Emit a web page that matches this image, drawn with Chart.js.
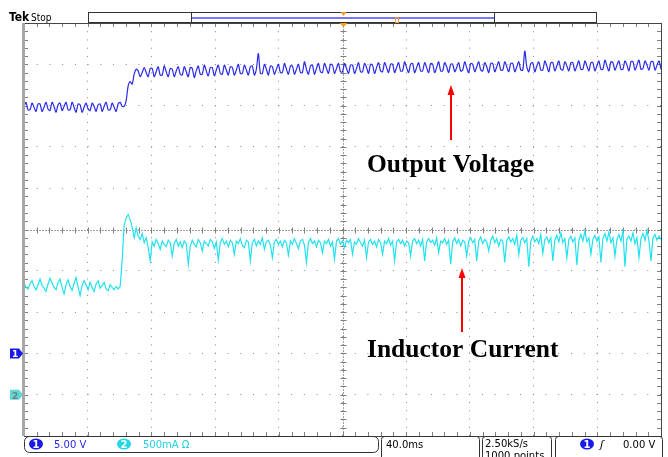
<!DOCTYPE html>
<html>
<head>
<meta charset="utf-8">
<script src="https://cdn.jsdelivr.net/npm/chart.js@4"></script>
<style>
  html, body { margin: 0; padding: 0; background: #ffffff; }
  #wrap { position: relative; width: 668px; height: 457px; overflow: hidden; }
</style>
</head>
<body>
<div id="wrap"><canvas id="scopeChart"></canvas></div>
<script>
// CH1 output voltage (V), 319 samples across the screen
const outputVoltage = [
    29.9, 30.4, 29.5, 29.5, 30.3, 29.8, 29.3, 30.2, 30.2, 29.3,
    29.8, 30.4, 29.6, 29.4, 30.4, 29.9, 29.2, 30.1, 30.3, 29.4,
    29.9, 30.4, 29.5, 29.5, 30.4, 29.8, 29.2, 30.2, 30.1, 29.2,
    29.8, 30.3, 29.6, 29.4, 30.3, 29.9, 29.3, 30.1, 30.2, 29.3,
    29.9, 30.4, 29.5, 29.5, 30.3, 29.8, 29.3, 30.2, 30.4, 29.9,
    29.9, 30.6, 32.4, 32.9, 32.6, 33.8,
    34.4, 34.2, 33.5, 34.0, 34.6, 34.0, 33.5, 34.5, 34.5, 33.5,
    34.1, 34.7, 33.7, 33.7, 34.8, 34.1, 33.5, 34.5, 34.4, 33.5,
    34.2, 34.7, 33.8, 33.7, 34.7, 34.1, 33.5, 34.6, 34.5, 33.4,
    34.2, 34.8, 33.8, 33.8, 34.9, 34.2, 33.6, 34.6, 34.6, 33.6,
    34.3, 34.9, 33.9, 33.8, 34.9, 34.3, 33.7, 34.7, 34.6, 33.7,
    34.3, 35.0, 33.9, 33.9, 34.9, 34.3, 33.7, 34.7, 34.8, 33.7,
    34.4, 36.3, 33.9, 33.9, 35.0, 34.4, 33.7, 34.8, 34.7, 33.8,
    34.4, 35.0, 34.0, 34.0, 35.1, 34.4, 33.8, 34.8, 34.8, 33.8,
    34.4, 35.0, 34.0, 34.0, 35.3, 34.4, 33.8, 34.8, 34.9, 33.8,
    34.5, 35.1, 34.1, 34.0, 35.1, 34.5, 33.9, 35.0, 34.9, 33.9,
    34.5, 35.1, 34.1, 34.1, 35.1, 34.5, 33.9, 34.9, 34.9, 33.9,
    34.5, 35.2, 34.1, 34.1, 35.1, 34.6, 33.9, 35.0, 34.9, 33.9,
    34.6, 35.2, 34.2, 34.1, 35.2, 34.6, 34.0, 35.0, 35.0, 34.0,
    34.6, 35.2, 34.2, 34.2, 35.3, 34.6, 34.0, 35.0, 35.1, 34.0,
    34.6, 35.2, 34.2, 34.2, 35.2, 34.6, 34.0, 35.1, 35.0, 34.0,
    34.6, 35.3, 34.2, 34.2, 35.2, 34.7, 34.0, 35.0, 35.0, 34.1,
    34.6, 35.2, 34.2, 34.3, 35.3, 34.6, 34.0, 35.1, 35.0, 34.1,
    34.7, 35.3, 34.3, 34.2, 35.2, 34.7, 34.0, 35.1, 35.1, 34.1,
    34.7, 35.3, 34.3, 34.3, 35.3, 34.7, 34.1, 35.1, 35.1, 34.1,
    34.7, 35.3, 34.3, 34.3, 36.6, 34.7, 34.1, 35.1, 35.2, 34.1,
    34.8, 35.3, 34.3, 34.3, 35.4, 34.8, 34.1, 35.2, 35.2, 34.2,
    34.8, 35.4, 34.4, 34.3, 35.3, 34.8, 34.2, 35.2, 35.2, 34.2,
    34.8, 35.4, 34.4, 34.4, 35.4, 34.8, 34.2, 35.2, 35.2, 34.2,
    34.8, 35.4, 34.4, 34.4, 35.5, 34.8, 34.2, 35.3, 35.2, 34.3,
    34.9, 35.4, 34.4, 34.4, 35.4, 34.9, 34.2, 35.3, 35.3, 34.3,
    34.9, 35.5, 34.4, 34.5, 35.4, 34.9, 34.3, 35.3, 35.3, 34.3,
    34.9, 35.4, 34.4
];

// CH2 inductor current (A), same samples
const inductorCurrent = [
    1.36, 1.30, 1.28, 1.34, 1.38, 1.31, 1.27, 1.33, 1.40, 1.32,
    1.29, 1.25, 1.34, 1.41, 1.35, 1.30, 1.27, 1.36, 1.40, 1.30,
    1.22, 1.33, 1.39, 1.31, 1.26, 1.35, 1.42, 1.30, 1.20, 1.32,
    1.38, 1.33, 1.27, 1.36, 1.30, 1.25, 1.34, 1.38, 1.29, 1.32,
    1.36, 1.28, 1.26, 1.33, 1.30, 1.27, 1.31, 1.28, 1.31,
    1.62, 2.05, 2.14, 2.18, 2.12, 2.03, 1.90, 2.02, 1.92, 1.88, 1.95, 1.84, 1.90,
    1.78, 1.62, 1.85, 1.80, 1.88, 1.83, 1.76, 1.86, 1.82, 1.79,
    1.87, 1.84, 1.68, 1.83, 1.88, 1.80, 1.85, 1.78, 1.86, 1.83,
    1.58, 1.80, 1.87, 1.82, 1.79, 1.88, 1.84, 1.74, 1.86, 1.83,
    1.80, 1.88, 1.85, 1.77, 1.85, 1.63, 1.84, 1.89, 1.82, 1.86,
    1.79, 1.87, 1.84, 1.70, 1.86, 1.83, 1.89, 1.81, 1.78, 1.87,
    1.85, 1.62, 1.84, 1.88, 1.80, 1.86, 1.82, 1.90, 1.76, 1.85,
    1.87, 1.81, 1.66, 1.85, 1.88, 1.82, 1.86, 1.79, 1.87, 1.84,
    1.69, 1.86, 1.82, 1.89, 1.83, 1.77, 1.86, 1.88, 1.81, 1.60,
    1.84, 1.89, 1.83, 1.86, 1.79, 1.87, 1.84, 1.72, 1.86, 1.83,
    1.88, 1.80, 1.85, 1.64, 1.86, 1.89, 1.82, 1.86, 1.78, 1.87,
    1.84, 1.88, 1.70, 1.85, 1.82, 1.89, 1.84, 1.80, 1.87, 1.66,
    1.85, 1.88, 1.82, 1.86, 1.79, 1.88, 1.84, 1.70, 1.86, 1.83,
    1.89, 1.81, 1.86, 1.62, 1.85, 1.88, 1.83, 1.87, 1.80, 1.86,
    1.84, 1.68, 1.86, 1.89, 1.83, 1.87, 1.80, 1.88, 1.62, 1.85,
    1.89, 1.84, 1.87, 1.81, 1.90, 1.72, 1.86, 1.84, 1.89, 1.82,
    1.87, 1.58, 1.85, 1.90, 1.83, 1.88, 1.80, 1.87, 1.85, 1.68,
    1.86, 1.90, 1.84, 1.88, 1.62, 1.86, 1.91, 1.83, 1.88, 1.85,
    1.74, 1.87, 1.92, 1.84, 1.89, 1.80, 1.88, 1.86, 1.60, 1.87,
    1.91, 1.85, 1.89, 1.82, 1.93, 1.70, 1.87, 1.90, 1.84, 1.89,
    1.55, 1.86, 1.92, 1.85, 1.89, 1.83, 1.94, 1.71, 1.88, 1.91,
    1.84, 1.90, 1.62, 1.87, 1.93, 1.85, 1.96, 1.84, 1.89, 1.66,
    1.88, 1.92, 1.85, 1.90, 1.57, 1.87, 1.94, 1.86, 1.98, 1.85,
    1.90, 1.70, 1.88, 1.93, 1.86, 1.91, 1.60, 1.89, 1.95, 1.86,
    1.97, 1.84, 1.90, 1.68, 1.88, 1.94, 1.86, 1.98, 1.55, 1.89,
    1.92, 1.86, 1.96, 1.83, 1.90, 1.66, 1.89, 1.95, 1.87, 1.99,
    1.86, 1.62, 1.90, 1.94, 1.87, 1.92, 1.88
];

// screen settings: 40 ms/div, 10 divisions, trigger in the middle
const timeRangeMs = [-200, 200];
const msPerDiv = 40;
const ch1Range = [-10, 40];    // 5.00 V/div, ground 2 div above bottom
const ch1PerDiv = 5;
const ch2Range = [-0.5, 4.5];  // 500 mA/div, ground 1 div above bottom

// sample times of the record
const sampleTimes = outputVoltage.map((_, i) =>
    timeRangeMs[0] + i * (timeRangeMs[1] - timeRangeMs[0]) / (outputVoltage.length - 1));

const CH1 = '#2a2aea';
const CH2 = '#22e2f0';

function seg(ctx, x1, y1, x2, y2) {
    ctx.beginPath();
    ctx.moveTo(x1, y1);
    ctx.lineTo(x2, y2);
    ctx.stroke();
}

function badge(ctx, cx, cy, txt, fill) {
    ctx.fillStyle = fill;
    ctx.beginPath();
    ctx.ellipse(cx, cy, 7, 5.5, 0, 0, Math.PI * 2);
    ctx.fill();
    ctx.fillStyle = '#ffffff';
    ctx.font = 'bold 10px "DejaVu Sans"';
    ctx.textAlign = 'center';
    ctx.fillText(txt, cx, cy + 4);
    ctx.textAlign = 'left';
}

function arrowUp(ctx, x, tipY, tailY) {
    ctx.strokeStyle = '#ff0000';
    ctx.fillStyle = '#ff0000';
    ctx.lineWidth = 2;
    seg(ctx, x, tailY, x, tipY + 8);
    ctx.beginPath();
    ctx.moveTo(x, tipY);
    ctx.lineTo(x - 3.5, tipY + 10);
    ctx.lineTo(x + 3.5, tipY + 10);
    ctx.closePath();
    ctx.fill();
}

const scopeDecor = {
    id: 'scopeDecor',
    beforeDatasetsDraw(chart) {
        const {ctx, chartArea: a, scales} = chart;
        const x = scales.x, y = scales.y;
        const cx = Math.round(x.getPixelForValue(0)) + 0.5;
        const cy = Math.round(y.getPixelForValue(15)) + 0.5;
        ctx.save();
        ctx.lineWidth = 1;
        ctx.strokeStyle = '#a0a0a0';
        ctx.setLineDash([2, 1]);
        seg(ctx, cx, a.top, cx, a.bottom);
        seg(ctx, a.left, cy, a.right, cy);
        ctx.setLineDash([]);
        ctx.strokeStyle = '#808080';
        for (let t = timeRangeMs[0]; t <= timeRangeMs[1]; t += msPerDiv / 5) {
            const px = Math.round(x.getPixelForValue(t)) + 0.5;
            seg(ctx, px, a.top, px, a.top + 4);
            seg(ctx, px, a.bottom - 4, px, a.bottom);
            seg(ctx, px, cy - 3, px, cy + 3);
        }
        for (let v = ch1Range[0]; v <= ch1Range[1]; v += ch1PerDiv / 5) {
            const py = Math.round(y.getPixelForValue(v)) + 0.5;
            seg(ctx, a.left, py, a.left + 4, py);
            seg(ctx, a.right - 4, py, a.right, py);
            seg(ctx, cx - 3, py, cx + 3, py);
        }
        ctx.restore();
    },
    afterDatasetsDraw(chart) {
        const {ctx, chartArea: a, scales} = chart;
        const x = scales.x, y = scales.y, y2 = scales.y2;
        ctx.save();

        // frame
        ctx.strokeStyle = '#444444';
        ctx.lineWidth = 1;
        ctx.strokeRect(a.left + 0.5, a.top + 0.5, a.right - a.left, a.bottom - a.top);
        ctx.fillStyle = '#a8a8a8';
        ctx.fillRect(a.left - 2, a.top, 3, a.bottom - a.top);

        // Tek Stop
        ctx.fillStyle = '#000000';
        ctx.font = 'bold 12px "DejaVu Sans Condensed", "DejaVu Sans"';
        ctx.fillText('Tek', 9, 21);
        ctx.font = '10px "DejaVu Sans Condensed", "DejaVu Sans"';
        ctx.fillText('Stop', 31, 21);

        // record view bar
        const tx = Math.round(x.getPixelForValue(0)) + 0.5;
        ctx.strokeStyle = '#333333';
        ctx.strokeRect(88.5, 12.5, 508, 10);
        seg(ctx, 191.5, 12, 191.5, 23);
        seg(ctx, 494.5, 12, 494.5, 23);
        ctx.strokeStyle = '#4a4aff';
        ctx.lineWidth = 1.5;
        seg(ctx, 192, 18, 494, 18);
        ctx.fillStyle = '#f29a1e';
        ctx.beginPath();
        ctx.moveTo(tx - 3, 12); ctx.lineTo(tx + 3, 12); ctx.lineTo(tx, 16); ctx.closePath(); ctx.fill();
        ctx.beginPath();
        ctx.moveTo(tx - 4, a.top); ctx.lineTo(tx + 4, a.top); ctx.lineTo(tx, a.top + 4); ctx.closePath(); ctx.fill();
        ctx.strokeStyle = '#f29a1e';
        ctx.lineWidth = 1;
        ctx.strokeRect(395.5, 17.5, 3, 5);

        // channel ground markers
        const g1 = y.getPixelForValue(0);
        const g2 = y2.getPixelForValue(0);
        [[g1, '1', '#1a1ae8', '#ffffff'], [g2, '2', '#5fd6d6', '#7a7a7a']].forEach(([gy, t, f, tc]) => {
            ctx.fillStyle = f;
            ctx.beginPath();
            ctx.moveTo(10, gy - 5); ctx.lineTo(19, gy - 5); ctx.lineTo(23, gy);
            ctx.lineTo(19, gy + 5); ctx.lineTo(10, gy + 5); ctx.closePath(); ctx.fill();
            ctx.fillStyle = tc;
            ctx.font = 'bold 9px "DejaVu Sans"';
            ctx.fillText(t, 12, gy + 4);
        });

        // annotations
        ctx.fillStyle = '#000000';
        ctx.font = 'bold 25.5px "Liberation Serif"';
        ctx.fillText('Output Voltage', 367, 172);
        ctx.fillText('Inductor Current', 367, 357);
        arrowUp(ctx, 451, 85, 140);
        arrowUp(ctx, 462, 268, 332);

        // status bar
        ctx.strokeStyle = '#333333';
        ctx.lineWidth = 1;
        ctx.beginPath();
        ctx.roundRect(24.5, 436.5, 354, 16, 5);
        ctx.stroke();
        ctx.beginPath();
        ctx.roundRect(381.5, 436.5, 98, 24, 3);
        ctx.stroke();
        ctx.beginPath();
        ctx.roundRect(482.5, 436.5, 69, 24, 3);
        ctx.stroke();
        ctx.beginPath();
        ctx.roundRect(555.5, 436.5, 107, 24, 3);
        ctx.stroke();

        badge(ctx, 36, 444, '1', '#1a1ae8');
        badge(ctx, 124, 444, '2', '#22d8e6');
        ctx.font = '10px "DejaVu Sans"';
        ctx.fillStyle = '#2a2ae6';
        ctx.fillText('5.00 V', 54, 448);
        ctx.fillStyle = '#1ed2e2';
        ctx.fillText('500mA \u03A9', 143, 448);
        ctx.fillStyle = '#000000';
        ctx.fillText('40.0ms', 386, 448);
        ctx.fillText('2.50kS/s', 485, 447);
        ctx.fillText('1000 points', 485, 459);
        badge(ctx, 587, 444, '1', '#1a1ae8');
        ctx.fillStyle = '#000000';
        ctx.font = 'italic 11px "DejaVu Sans"';
        ctx.fillText('\u0283', 600, 448);
        ctx.font = '10px "DejaVu Sans"';
        ctx.fillText('0.00 V', 623, 448);

        ctx.restore();
    }
};

new Chart(document.getElementById('scopeChart'), {
    type: 'line',
    data: {
        labels: sampleTimes,
        datasets: [
            {
                label: 'Output Voltage',
                data: outputVoltage,
                yAxisID: 'y',
                borderColor: CH1,
                borderWidth: 1.2,
                pointRadius: 0,
                tension: 0.3
            },
            {
                label: 'Inductor Current',
                data: inductorCurrent,
                yAxisID: 'y2',
                borderColor: CH2,
                borderWidth: 1.2,
                pointRadius: 0,
                tension: 0
            }
        ]
    },
    options: {
        responsive: true,
        maintainAspectRatio: false,
        animation: false,
        layout: {
            padding: { left: 24, top: 23, right: 7, bottom: 21 }
        },
        plugins: {
            legend: { display: false },
            tooltip: { enabled: false }
        },
        scales: {
            x: {
                type: 'linear',
                min: timeRangeMs[0],
                max: timeRangeMs[1],
                ticks: { display: false, stepSize: msPerDiv },
                grid: { color: '#8a8a8a', drawTicks: false },
                border: { display: false, dash: [1, 7.24] }
            },
            y: {
                min: ch1Range[0],
                max: ch1Range[1],
                ticks: { display: false, stepSize: ch1PerDiv },
                grid: { color: '#8a8a8a', drawTicks: false },
                border: { display: false, dash: [1, 11.72] }
            },
            y2: {
                display: false,
                min: ch2Range[0],
                max: ch2Range[1]
            }
        }
    },
    plugins: [scopeDecor]
});
</script>
</body>
</html>
